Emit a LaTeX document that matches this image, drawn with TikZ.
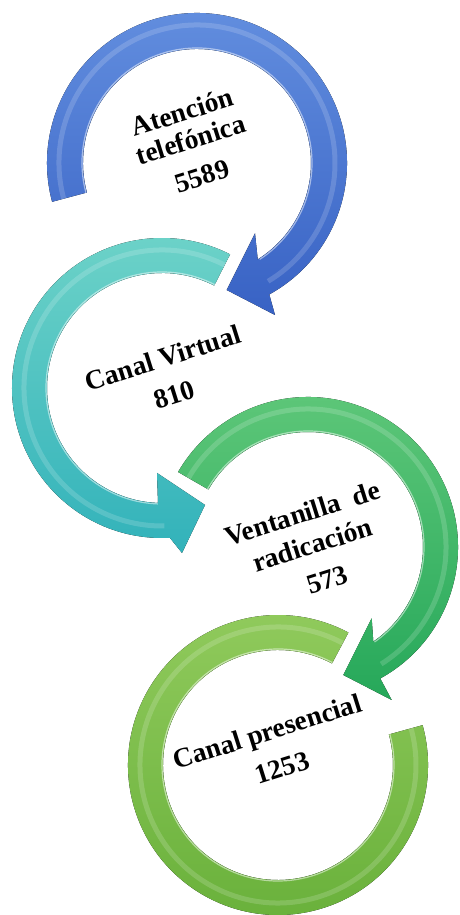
\documentclass[tikz,border=0pt]{standalone}
\usepackage{fontspec}
\setmainfont{Liberation Serif}
\usetikzlibrary{calc}
\definecolor{blueL}{RGB}{100,144,224}
\definecolor{blueD}{RGB}{56,98,196}
\definecolor{tealL}{RGB}{108,210,200}
\definecolor{tealD}{RGB}{50,178,186}
\definecolor{greenL}{RGB}{96,200,122}
\definecolor{greenD}{RGB}{38,168,90}
\definecolor{lgreenL}{RGB}{144,202,92}
\definecolor{lgreenD}{RGB}{104,176,58}
\tikzset{
  lbl/.style={font=\fontsize{27.5}{29}\selectfont\bfseries, rotate=17.5, inner sep=0pt, text=black, align=center},
  hilite/.style={white, opacity=0.16, line width=5pt},
  innerline/.style={white, opacity=0.5, line width=1.2pt},
}
\begin{document}
\begin{tikzpicture}[x=1pt,y=1pt]
\useasboundingbox (0,0) rectangle (460,915);
\fill[white] (0,0) rectangle (460,915);

\coordinate (Bc) at (197,752);
\coordinate (Tc) at (162,527);
\coordinate (Gc) at (308,368);
\coordinate (Lc) at (278,150);

% light green ring (no arrowhead)
\fill[top color=lgreenL, bottom color=lgreenD]
  ($(Lc)+(62:115)$) arc[start angle=62, end angle=375.4, radius=115]
  -- ($(Lc)+(15.4:150)$) arc[start angle=375.4, end angle=62, radius=150] -- cycle;
\draw[hilite] ($(Lc)+(62:138)$) arc[start angle=62, end angle=375.4, radius=138];
\draw[innerline] ($(Lc)+(62:116)$) arc[start angle=62, end angle=375.4, radius=116];

% green arrow
\coordinate (g1) at (371.7,296.7);
\coordinate (g2) at (343.3,240);
\coordinate (g3) at (391.7,215);
\fill[top color=greenL, bottom color=greenD]
  ($(Gc)+(150:115)$) arc[start angle=150, end angle=-55.4, radius=115]
  -- (g1) -- (g2) -- (g3)
  -- ($(Gc)+(-61.2:150)$) arc[start angle=-61.2, end angle=150, radius=150] -- cycle;
\draw[hilite] ($(Gc)+(150:138)$) arc[start angle=150, end angle=-58, radius=138];
\draw[innerline] ($(Gc)+(150:116)$) arc[start angle=150, end angle=-55, radius=116];

% teal arrow
\coordinate (t1) at (157,442);
\coordinate (t2) at (205,410);
\coordinate (t3) at (182,362);
\fill[top color=tealL, bottom color=tealD]
  ($(Tc)+(63:115)$) arc[start angle=63, end angle=268, radius=115]
  -- (t1) -- (t2) -- (t3)
  -- ($(Tc)+(273:150)$) arc[start angle=273, end angle=63, radius=150] -- cycle;
\draw[hilite] ($(Tc)+(63:138)$) arc[start angle=63, end angle=271, radius=138];
\draw[innerline] ($(Tc)+(63:116)$) arc[start angle=63, end angle=268, radius=116];

% blue arrow
\coordinate (b1) at (255,681.7);
\coordinate (b2) at (226.7,625);
\coordinate (b3) at (275,600);
\fill[top color=blueL, bottom color=blueD]
  ($(Bc)+(195:114)$) arc[start angle=195, end angle=-57.8, radius=114]
  -- (b1) -- (b2) -- (b3)
  -- ($(Bc)+(-61.2:150)$) arc[start angle=-61.2, end angle=195, radius=150] -- cycle;
\draw[hilite] ($(Bc)+(195:138)$) arc[start angle=195, end angle=-59, radius=138];
\draw[innerline] ($(Bc)+(195:115)$) arc[start angle=195, end angle=-57, radius=115];

% labels
\node[lbl] (a) at (192,771) {Atención\\telefónica\\[9pt]5589};
\node[lbl] (v) at (168.7,539) {Canal Virtual\\[9pt]810};
\node[lbl] (r) at (313,368) {Ventanilla\ \ de\\[4pt]radicación\\[9pt]\ 573};
\node[lbl] (p) at (273,165) {Canal presencial\\[10pt]\ 1253};
\end{tikzpicture}
\end{document}
